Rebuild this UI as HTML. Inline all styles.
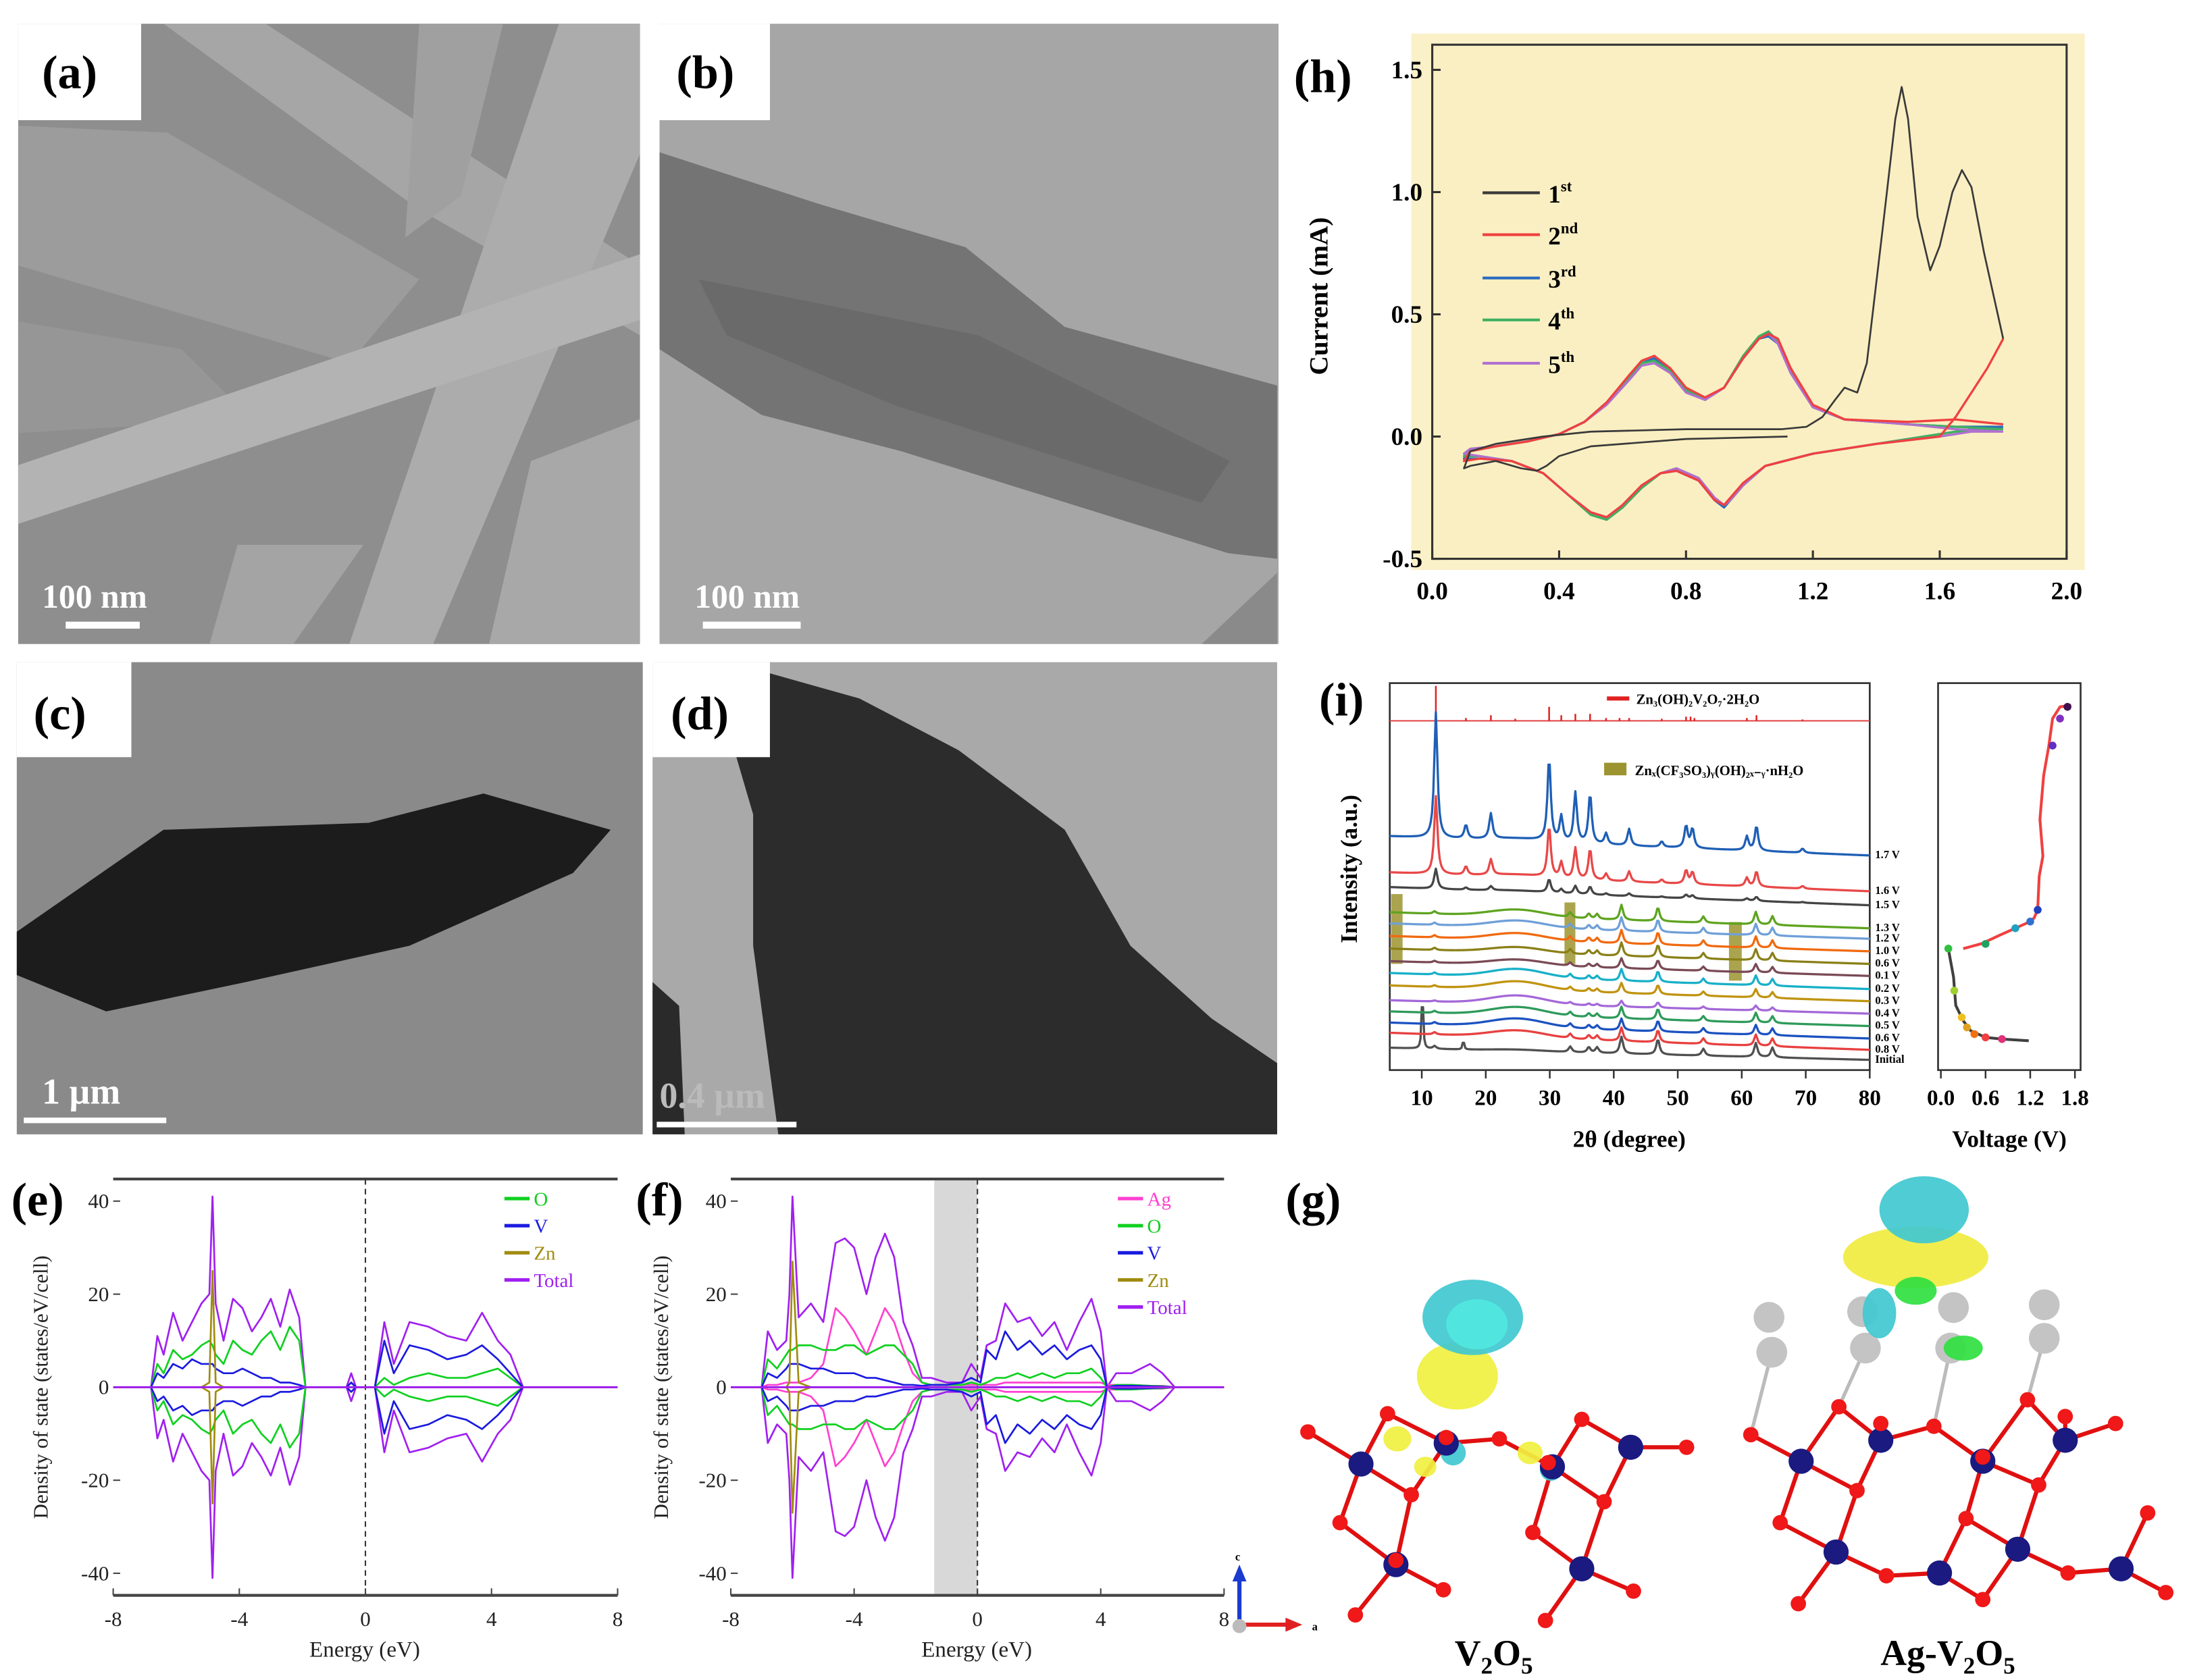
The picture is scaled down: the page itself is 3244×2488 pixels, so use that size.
<!DOCTYPE html>
<html><head><meta charset="utf-8">
<style>
html,body{margin:0;padding:0;background:#fff;}
svg{display:block;}
text{font-family:"Liberation Serif",serif;}
</style></head>
<body>
<svg id="fig" width="3244" height="2488" viewBox="0 0 1568 1202.6" xmlns="http://www.w3.org/2000/svg">
<rect x="0" y="0" width="1568" height="1203" fill="#fff"/>

<!-- (a) SEM -->
<g>
  <rect x="13" y="17" width="445" height="444" fill="#8e8e8e"/>
  <polygon points="117,17 190,17 458,190 458,240 300,150" fill="#a6a6a6"/>
  <polygon points="13,90 120,95 300,200 250,260 13,190" fill="#9c9c9c"/>
  <polygon points="13,230 130,250 180,300 13,310" fill="#969696"/>
  <polygon points="400,17 458,17 458,110 310,461 250,461" fill="#acacac"/>
  <polygon points="300,17 360,17 330,140 290,170" fill="#a0a0a0"/>
  <polygon points="13,333 458,182 458,229 13,375" fill="#b3b3b3"/>
  <polygon points="170,390 260,390 210,461 150,461" fill="#a4a4a4"/>
  <polygon points="380,330 458,300 458,461 350,461" fill="#a8a8a8"/>
  <rect x="13" y="17" width="88" height="69" fill="#fff"/>
  <text x="30" y="63" font-size="34" font-weight="bold">(a)</text>
  <text x="30" y="435" font-size="24" font-weight="bold" fill="#fff">100 nm</text>
  <rect x="47" y="445" width="53" height="5" fill="#fff"/>
</g>

<!-- (b) TEM -->
<g>
  <rect x="472" y="17" width="443" height="444" fill="#a6a6a6"/>
  <polygon points="472,109 586,146 691,177 762,234 914,276 914,400 879,396 645,323 545,297 472,250" fill="#747474"/>
  <polygon points="500,200 700,240 880,330 860,360 640,290 520,240" fill="#6a6a6a"/>
  <polygon points="860,461 914,410 914,461" fill="#8a8a8a"/>
  <rect x="472" y="17" width="79" height="69" fill="#fff"/>
  <text x="484" y="63" font-size="34" font-weight="bold">(b)</text>
  <text x="497" y="435" font-size="24" font-weight="bold" fill="#fff">100 nm</text>
  <rect x="503" y="445" width="70" height="5" fill="#fff"/>
</g>

<!-- (c) -->
<g>
  <rect x="12" y="474" width="448" height="338" fill="#8a8a8a"/>
  <polygon points="12,667 117,594 264,589 346,568 437,594 410,625 293,677 176,703 76,724 12,698" fill="#1c1c1c"/>
  <rect x="12" y="474" width="82" height="68" fill="#fff"/>
  <text x="24" y="522" font-size="34" font-weight="bold">(c)</text>
  <text x="30" y="790" font-size="26" font-weight="bold" fill="#fff">1 µm</text>
  <rect x="17" y="800" width="102" height="4" fill="#fff"/>
</g>

<!-- (d) -->
<g>
  <rect x="467" y="474" width="447" height="338" fill="#a9a9a9"/>
  <polygon points="527,542 551,482 615,500 686,537 762,594 809,677 867,729 914,761 914,812 557,812 539,677 539,583" fill="#2c2c2c"/>
  <polygon points="467,703 486,720 490,812 467,812" fill="#2a2a2a"/>
  <rect x="467" y="474" width="84" height="68" fill="#fff"/>
  <text x="480" y="522" font-size="34" font-weight="bold">(d)</text>
  <text x="472" y="793" font-size="26" font-weight="bold" fill="#bbb">0.4 µm</text>
  <rect x="470" y="803" width="100" height="4" fill="#fff"/>
</g>

<!-- (h) CV -->
<g>
  <rect x="1010" y="24" width="482" height="384" fill="#fbf1c8"/>
  <text x="926" y="66" font-size="34" font-weight="bold">(h)</text>
  <text x="1044" y="82" font-size="19" font-weight="bold" fill="#222">unit: 0.1 mV s<tspan font-size="12" dy="-8">-1</tspan></text>
  <text transform="translate(950,212) rotate(-90)" text-anchor="middle" font-size="19" font-weight="bold">Current (mA)</text>
  <g id="hplot"></g>
</g>

<!-- (i) XRD -->
<g>
  <text x="944" y="512" font-size="34" font-weight="bold">(i)</text>
  <text transform="translate(971,622) rotate(-90)" text-anchor="middle" font-size="17" font-weight="bold">Intensity (a.u.)</text>
  <text x="1166" y="821" text-anchor="middle" font-size="17" font-weight="bold">2θ (degree)</text>
  <text x="1438" y="821" text-anchor="middle" font-size="17" font-weight="bold">Voltage (V)</text>
  <g id="iplot"></g>
</g>

<!-- (e),(f) DOS -->
<g>
  <text x="8" y="870" font-size="34" font-weight="bold">(e)</text>
  <text transform="translate(34,993) rotate(-90)" text-anchor="middle" font-size="15" fill="#222">Density of state (states/eV/cell)</text>
  <text x="261" y="1186" text-anchor="middle" font-size="16" fill="#222">Energy (eV)</text>
  <g id="eplot"></g>
</g>
<g>
  <text x="455" y="870" font-size="34" font-weight="bold">(f)</text>
  <text transform="translate(478,993) rotate(-90)" text-anchor="middle" font-size="15" fill="#222">Density of state (states/eV/cell)</text>
  <text x="699" y="1186" text-anchor="middle" font-size="16" fill="#222">Energy (eV)</text>
  <g id="fplot"></g>
</g>

<!-- (g) structures -->
<g>
  <text x="920" y="870" font-size="34" font-weight="bold">(g)</text>
  <g id="gmol"></g>
  <text x="1069" y="1192" text-anchor="middle" font-size="26" font-weight="bold">V<tspan font-size="17" dy="6">2</tspan><tspan dy="-6">O</tspan><tspan font-size="17" dy="6">5</tspan></text>
  <text x="1394" y="1192" text-anchor="middle" font-size="26" font-weight="bold">Ag-V<tspan font-size="17" dy="6">2</tspan><tspan dy="-6">O</tspan><tspan font-size="17" dy="6">5</tspan></text>
  <g>
    <line x1="887" y1="1163" x2="887" y2="1130" stroke="#1a3ad0" stroke-width="3"/>
    <polygon points="882,1132 892,1132 887,1120" fill="#1a3ad0"/>
    <line x1="887" y1="1163" x2="922" y2="1163" stroke="#e02020" stroke-width="3"/>
    <polygon points="920,1158 920,1168 932,1163" fill="#e02020"/>
    <circle cx="887" cy="1164" r="5" fill="#bbb"/>
    <text x="884" y="1117" font-size="8" font-weight="bold">c</text>
    <text x="939" y="1167" font-size="8" font-weight="bold">a</text>
  </g>
</g>
</svg>

<script>
// ---------- CV (h) data ----------
const cvCycleNames = ['1st','2nd','3rd','4th','5th'];
const cvColors = ['#3a3a3a','#f04040','#2a6cc0','#40b060','#b070d0'];
const cv1V = [1.12,0.8,0.5,0.4,0.36,0.33,0.28,0.2,0.12,0.1,0.12,0.2,0.35,0.5,0.8,1.1,1.18,1.23,1.27,1.3,1.34,1.37,1.42,1.46,1.48,1.5,1.53,1.57,1.6,1.64,1.67,1.7,1.74,1.8];
const cv1I = [0.0,-0.01,-0.04,-0.08,-0.12,-0.14,-0.13,-0.1,-0.12,-0.13,-0.06,-0.03,0.0,0.02,0.03,0.03,0.04,0.08,0.15,0.2,0.18,0.3,0.85,1.3,1.43,1.3,0.9,0.68,0.78,1.0,1.09,1.02,0.75,0.4];
const cv2V = [1.8,1.75,1.7,1.65,1.6,1.4,1.2,1.05,0.98,0.94,0.92,0.89,0.84,0.77,0.72,0.66,0.6,0.55,0.5,0.43,0.35,0.25,0.15,0.1,0.12,0.2,0.3,0.4,0.48,0.55,0.62,0.66,0.7,0.75,0.8,0.86,0.92,0.98,1.03,1.06,1.09,1.13,1.2,1.3,1.5,1.65,1.8];
const cv2I = [0.4,0.28,0.18,0.08,0.0,-0.03,-0.07,-0.12,-0.19,-0.25,-0.28,-0.26,-0.18,-0.14,-0.15,-0.2,-0.28,-0.33,-0.31,-0.24,-0.15,-0.1,-0.09,-0.1,-0.06,-0.04,-0.02,0.01,0.06,0.14,0.25,0.31,0.33,0.28,0.2,0.16,0.2,0.32,0.4,0.42,0.4,0.28,0.13,0.07,0.06,0.07,0.05];
const cv3I = [0.04,0.03,0.03,0.02,0.01,-0.03,-0.07,-0.12,-0.2,-0.26,-0.29,-0.26,-0.18,-0.14,-0.15,-0.21,-0.29,-0.34,-0.32,-0.24,-0.15,-0.1,-0.09,-0.09,-0.06,-0.04,-0.02,0.01,0.06,0.14,0.24,0.3,0.32,0.27,0.19,0.15,0.2,0.32,0.4,0.41,0.38,0.26,0.12,0.07,0.05,0.04,0.04];
const cv4I = [0.03,0.03,0.02,0.02,0.01,-0.03,-0.07,-0.12,-0.2,-0.26,-0.28,-0.25,-0.17,-0.13,-0.15,-0.21,-0.29,-0.34,-0.32,-0.24,-0.15,-0.1,-0.08,-0.08,-0.05,-0.04,-0.02,0.01,0.06,0.14,0.24,0.3,0.31,0.27,0.19,0.15,0.2,0.33,0.41,0.43,0.39,0.27,0.12,0.07,0.05,0.04,0.03];
const cv5I = [0.02,0.02,0.02,0.01,0.0,-0.03,-0.07,-0.12,-0.2,-0.26,-0.28,-0.25,-0.17,-0.13,-0.15,-0.2,-0.28,-0.33,-0.31,-0.24,-0.15,-0.1,-0.08,-0.07,-0.05,-0.04,-0.02,0.01,0.06,0.13,0.23,0.29,0.3,0.26,0.18,0.15,0.2,0.32,0.4,0.42,0.38,0.26,0.12,0.07,0.05,0.03,0.02];
const cvXTicks = [0.0,0.4,0.8,1.2,1.6,2.0];
const cvXTickLabels = ['0.0','0.4','0.8','1.2','1.6','2.0'];
const cvYTicks = [-0.5,0.0,0.5,1.0,1.5];
const cvYTickLabels = ['-0.5','0.0','0.5','1.0','1.5'];

// ---------- XRD (i) data ----------
const xrdLabels = ['1.7 V','1.6 V','1.5 V','1.3 V','1.2 V','1.0 V','0.6 V','0.1 V','0.2 V','0.3 V','0.4 V','0.5 V','0.6 V','0.8 V','Initial'];
const xrdColors = ['#1f5fb5','#e84848','#454545','#5ea420','#6fa0d8','#f06a10','#8a8018','#7a4a56','#18b0c8','#c09410','#a468d8','#2e9a5a','#1c52c0','#e84040','#505050'];
const xrdStartOffset = [598.6,624.5,635,653,661,670,679,688,696.5,705.4,716,724,732,739.3,750];
const xrdEndOffset = [612.4,638,648,664.5,672,681,690,698.6,708,716.7,725.6,734.5,743.4,751.5,758.7];
const xrdHiScale = [1.0,0.62,0.16,0,0,0,0,0,0,0,0,0,0,0,0];
const xrdLoScale = [0,0,0,0.9,0.8,0.8,0.8,0.6,0.7,0.6,0.35,0.7,0.7,0.8,1.0];
const xrdHump = [2,2,1,5,5,5,4,4,6,6,6,6,6,5,1];
const hiPeaks = [12.2,16.9,20.8,29.9,31.8,34.0,36.3,38.8,42.4,47.5,51.3,52.3,60.8,62.3,69.5];
const hiHeights = [90,10,18,60,18,36,36,8,12,4,16,14,10,18,3];
const loPeaks = [12.0,33.2,36.1,37.4,41.2,46.9,54.0,62.2,64.8];
const loHeights = [2,4,4,4,12,11,5,10,7];
const initialExtraPeaks = [10.1,16.5];
const initialExtraHeights = [50,8];
const refSticks = [12.2,16.9,20.8,24.6,29.9,31.8,34.0,36.3,38.8,40.9,42.4,47.5,51.3,52.0,52.6,60.8,62.3,69.5];
const refHeights = [25,2,4,1.5,10,4,5,5,2,2,2,1.5,3,3,2,2,4,1];
const xrdXTicks = [10,20,30,40,50,60,70,80];
const highlightBands = [[5.2,7.0,640,690],[32.3,34.0,646,690],[58.0,60.0,660,702]];

// ---------- voltage profile ----------
const voltV = [1.18,0.82,0.6,0.4,0.3,0.2,0.17,0.1,0.3,0.55,0.8,1.0,1.15,1.25,1.3,1.32,1.37,1.33,1.38,1.45,1.5,1.6,1.75];
const voltT = [0,0.005,0.01,0.03,0.06,0.106,0.191,0.276,0.276,0.291,0.317,0.337,0.352,0.367,0.392,0.492,0.553,0.663,0.794,0.884,0.965,1.0,1.005];
const voltSplit = 8;
const markerV = [0.82,0.6,0.45,0.35,0.28,0.18,0.1,0.6,1.0,1.2,1.3,1.5,1.6,1.7];
const markerT = [0.005,0.01,0.02,0.04,0.07,0.15,0.276,0.29,0.337,0.357,0.392,0.884,0.965,1.0];
const markerColors = ['#e0307a','#f04040','#f07010','#e0a020','#f0c020','#a0d030','#30c040','#20a060','#20a0c0','#3070d0','#2040c0','#6030c0','#8030c0','#401050'];
const voltTicks = [0.0,0.6,1.2,1.8];

// ---------- DOS (e) ----------
const eEnergy = [-8,-6.8,-6.6,-6.4,-6.1,-5.8,-5.5,-5.2,-4.95,-4.85,-4.75,-4.5,-4.2,-3.9,-3.6,-3.3,-3.0,-2.7,-2.4,-2.1,-1.9,-0.6,-0.45,-0.3,0.3,0.6,0.9,1.4,2.0,2.6,3.2,3.7,4.2,4.6,5.0,8];
const eTotal = [0,0,11,7,16,10,14,18,20,41,18,10,19,17,12,15,19,13,21,15,0,0,3,0,0,14,5,14,13,11,10,16,10,7,0,0];
const eO = [0,0,5,3,8,6,7,9,10,9,7,5,10,8,7,10,12,8,13,10,0,0,1,0,0,2,0.5,2,3,2,2,3,4,2,0,0];
const eV = [0,0,3,2,5,4,6,5,5,5,4,3,3,4,3,2,2,1,1,0.5,0,0,1,0,0,10,3,9,8,6,7,9,6,3,0,0];
const eZn = [0,0,0,0,0,0,0,0,1,25,1,0,0,0,0,0,0,0,0,0,0,0,0,0,0,0,0,0,0,0,0,0,0,0,0,0];
// ---------- DOS (f) ----------
const fEnergy = [-8,-7.0,-6.8,-6.5,-6.2,-6.1,-6.0,-5.8,-5.4,-5.0,-4.6,-4.3,-4.0,-3.6,-3.3,-3.0,-2.7,-2.4,-2.1,-1.8,-1.5,-1.0,-0.5,-0.2,0.1,0.3,0.6,0.9,1.3,1.7,2.1,2.5,2.9,3.3,3.7,4.0,4.2,4.5,5.0,5.6,6.0,6.4,8];
const fTotal = [0,0,12,8,10,20,41,15,18,14,31,32,30,20,28,33,28,14,9,2,2,1,1,5,2,9,10,18,14,15,11,14,8,14,19,12,0,3,3,5,3,0,0];
const fAg = [0,0,0.5,0.5,1,1,1,1,2,5,17,15,12,7,12,17,14,8,3,1,0.5,0.5,0.5,0.5,0.5,0.5,0.5,1,1,1,1,1,1,1,1,1,0.5,0.5,0.5,0.3,0.3,0,0];
const fO = [0,0,6,4,7,8,8,9,9,8,8,9,9,7,8,9,9,7,5,1,0.5,0.5,0.5,1,0.5,1,2,2,3,2,3,2,3,3,4,2,0,0.5,0.5,0.3,0.2,0,0];
const fV = [0,0,3,2,4,5,5,5,4,4,3,3,3,2,2,1.5,1,0.5,0.5,0.3,0.5,0.5,1,2,1,8,6,12,8,10,7,9,6,8,9,6,0,0.3,0.3,0.2,0.1,0,0];
const fZn = [0,0,0,0,0,1,27,1,0,0,0,0,0,0,0,0,0,0,0,0,0,0,0,0,0,0,0,0,0,0,0,0,0,0,0,0,0,0,0,0,0,0,0];
const dosXTicks = [-8,-4,0,4,8];
const dosYTicks = [-40,-20,0,20,40];

const NS='http://www.w3.org/2000/svg';
function mk(parent,tag,attrs,txt){const el=document.createElementNS(NS,tag);for(const k in attrs)el.setAttribute(k,attrs[k]);if(txt!==undefined)el.textContent=txt;parent.appendChild(el);return el;}
function pathFrom(xs,ys){let d='';for(let i=0;i<xs.length;i++)d+=(i?'L':'M')+xs[i].toFixed(2)+','+ys[i].toFixed(2);return d;}

// ===== (h) =====
(function(){
  const g=document.getElementById('hplot');
  const xh=v=>1025+v*227, yh=c=>312.5-c*175;
  const frame=mk(g,'rect',{x:1025,y:32,width:454,height:368,fill:'#faefc2',stroke:'#333','stroke-width':1.5});
  
  
  cvXTicks.forEach((t,i)=>{
    const l=mk(g,'line',{x1:xh(t),x2:xh(t),y1:400,y2:394,stroke:'#333','stroke-width':1.5});
    
    
    const tx=mk(g,'text',{x:xh(t),y:429,'text-anchor':'middle','font-size':18,'font-weight':'bold'},cvXTickLabels[i]);
    
    
  });
  cvYTicks.forEach((t,i)=>{
    const l=mk(g,'line',{x1:1025,x2:1031,y1:yh(t),y2:yh(t),stroke:'#333','stroke-width':1.5});
    
    
    const tx=mk(g,'text',{x:1018,y:yh(t)+6,'text-anchor':'end','font-size':18,'font-weight':'bold'},cvYTickLabels[i]);
    
    
  });
  const series=[[cv1V,cv1I],[cv2V,cv2I],[cv2V,cv3I],[cv2V,cv4I],[cv2V,cv5I]];
  const order=[2,3,4,1,0];
  order.forEach(k=>{
    const [vs,is]=series[k];
    const p=mk(g,'path',{d:pathFrom(vs.map(xh),is.map(yh)),fill:'none',stroke:cvColors[k],'stroke-width':k==0?1.3:1.6,'stroke-linejoin':'round'});
    
    
  });
  const legY=[138,168,199,229,260];
  cvCycleNames.forEach((n,i)=>{
    const l=mk(g,'line',{x1:1061,x2:1102,y1:legY[i],y2:legY[i],stroke:cvColors[i],'stroke-width':2});
    
    
    const t=mk(g,'text',{x:1108,y:legY[i]+7,'font-size':18,'font-weight':'bold'});
    
    
    t.appendChild(document.createTextNode(n.charAt(0)));
    mk(t,'tspan',{'font-size':11,dy:-8},n.slice(1));
  });
})();

// ===== (i) =====
(function(){
  const g=document.getElementById('iplot');
  const xi=t=>994.6+(t-5)*4.58;
  const lor=(x,c,w)=>1/(1+((x-c)/w)*((x-c)/w));
  const fr=mk(g,'rect',{x:994.6,y:489,width:343.5,height:277,fill:'none',stroke:'#333','stroke-width':1.3});
  
  
  xrdXTicks.forEach(t=>{
    const l=mk(g,'line',{x1:xi(t),x2:xi(t),y1:766,y2:772,stroke:'#333','stroke-width':1.2});
    
    
    const tx=mk(g,'text',{x:xi(t),y:791,'text-anchor':'middle','font-size':16,'font-weight':'bold'},String(t));
    
    
  });
  highlightBands.forEach(b=>{
    const r=mk(g,'rect',{x:xi(b[0]),y:b[2],width:xi(b[1])-xi(b[0]),height:b[3]-b[2],fill:'#9c9430',opacity:0.85});
    
    
  });
  const base=mk(g,'line',{x1:994.6,x2:1338,y1:516,y2:516,stroke:'#e04040','stroke-width':1});
  
  
  refSticks.forEach((t,i)=>{
    const l=mk(g,'line',{x1:xi(t),x2:xi(t),y1:516,y2:516-refHeights[i],stroke:'#e02020','stroke-width':1.2});
    
    
  });
  for(let k=xrdLabels.length-1;k>=0;k--){
    const xs=[],ys=[];
    for(let t=5;t<=80.001;t+=0.2){
      let b=xrdStartOffset[k]+(xrdEndOffset[k]-xrdStartOffset[k])*(t-5)/75;
      let h=xrdHump[k]*Math.exp(-((t-25)/6)*((t-25)/6));
      hiPeaks.forEach((c,j)=>{h+=xrdHiScale[k]*hiHeights[j]*lor(t,c,0.3);});
      loPeaks.forEach((c,j)=>{h+=xrdLoScale[k]*loHeights[j]*lor(t,c,0.3);});
      if(k===xrdLabels.length-1) initialExtraPeaks.forEach((c,j)=>{h+=initialExtraHeights[j]*lor(t,c,0.12);});
      xs.push(xi(t));ys.push(b-h);
    }
    const p=mk(g,'path',{d:pathFrom(xs,ys),fill:'none',stroke:xrdColors[k],'stroke-width':1.6,'stroke-linejoin':'round'});
    
    
    const lb=mk(g,'text',{x:1342,y:xrdEndOffset[k]+2,'font-size':8,'font-weight':'bold'},xrdLabels[k]);
    
    
  }
  const l1=mk(g,'line',{x1:1150,x2:1166,y1:500,y2:500,stroke:'#e02020','stroke-width':3});
  
  
  const t1=mk(g,'text',{x:1171,y:504,'font-size':10,'font-weight':'bold'},'Zn₃(OH)₂V₂O₇·2H₂O');
  
  
  const r2=mk(g,'rect',{x:1148,y:546,width:16,height:9,fill:'#9c9430'});
  
  
  const t2=mk(g,'text',{x:1170,y:555,'font-size':10,'font-weight':'bold'},'Znₓ(CF₃SO₃)ᵧ(OH)₂ₓ₋ᵧ·nH₂O');
  
  

  const xv=v=>1389+v*53.3, yv=t=>745-t*239;
  const vf=mk(g,'rect',{x:1387,y:489,width:102,height:277,fill:'none',stroke:'#333','stroke-width':1.3});
  
  
  voltTicks.forEach(t=>{
    const l=mk(g,'line',{x1:xv(t),x2:xv(t),y1:766,y2:772,stroke:'#333','stroke-width':1.2});
    
    
    const tx=mk(g,'text',{x:xv(t),y:791,'text-anchor':'middle','font-size':16,'font-weight':'bold'},t.toFixed(1));
    
    
  });
  const dis=mk(g,'path',{d:pathFrom(voltV.slice(0,voltSplit).map(xv),voltT.slice(0,voltSplit).map(yv)),fill:'none',stroke:'#404040','stroke-width':2});
  
  
  const chg=mk(g,'path',{d:pathFrom(voltV.slice(voltSplit).map(xv),voltT.slice(voltSplit).map(yv)),fill:'none',stroke:'#f04040','stroke-width':2});
  
  
  markerV.forEach((v,i)=>{
    const c=mk(g,'circle',{cx:xv(v),cy:yv(markerT[i]),r:2.8,fill:markerColors[i]});
    
    
  });
})();

// ===== DOS =====
function dosPanel(id,x0,x1,E,series,colors,names,legendOrder,legendX,shade){
  const g=document.getElementById(id);
  const xs=e=>x0+(e+8)*(x1-x0)/16, ys=v=>993-v*3.33;
  if(shade){const r=mk(g,'rect',{x:xs(shade[0]),y:844,width:xs(shade[1])-xs(shade[0]),height:298,fill:'#d8d8d8'});
    
    }
  const top=mk(g,'line',{x1:x0,x2:x1,y1:844,y2:844,stroke:'#444','stroke-width':2});
  
  
  const bot=mk(g,'line',{x1:x0,x2:x1,y1:1142,y2:1142,stroke:'#444','stroke-width':2});
  
  
  const fl=mk(g,'line',{x1:xs(0),x2:xs(0),y1:844,y2:1142,stroke:'#333','stroke-width':1,'stroke-dasharray':'4,3'});
  
  
  dosXTicks.forEach(t=>{
    const l=mk(g,'line',{x1:xs(t),x2:xs(t),y1:1142,y2:1137,stroke:'#444'});
    
    
    const tx=mk(g,'text',{x:xs(t),y:1164,'text-anchor':'middle','font-size':15,fill:'#222'},String(t));
    
    
  });
  dosYTicks.forEach(t=>{
    const l=mk(g,'line',{x1:x0,x2:x0+5,y1:ys(t),y2:ys(t),stroke:'#444'});
    
    
    const tx=mk(g,'text',{x:x0-3,y:ys(t)+5,'text-anchor':'end','font-size':15,fill:'#222'},String(t));
    
    
  });
  series.forEach((s,k)=>{
    ['up','down'].forEach((sp,si)=>{
      const sign=si?-1:1;
      const p=mk(g,'path',{d:pathFrom(E.map(xs),s.map(v=>ys(sign*v))),fill:'none',stroke:colors[k],'stroke-width':1.3,'stroke-linejoin':'round'});
      
      
    });
  });
  const z=mk(g,'line',{x1:x0,x2:x1,y1:993,y2:993,stroke:colors[0],'stroke-width':1.5});
  
  
  legendOrder.forEach((k,i)=>{
    const y=858+i*19.4;
    const l=mk(g,'line',{x1:legendX,x2:legendX+18,y1:y,y2:y,stroke:colors[k],'stroke-width':2.5});
    
    
    const t=mk(g,'text',{x:legendX+21,y:y+5,'font-size':14,fill:colors[k]},names[k]);
    
    
  });
}
dosPanel('eplot',81,442,eEnergy,[eTotal,eO,eV,eZn],['#a020f0','#10d020','#1a1ae0','#a08c10'],['Total','O','V','Zn'],[1,2,3,0],361,null);
dosPanel('fplot',523,876,fEnergy,[fTotal,fAg,fO,fV,fZn],['#a020f0','#ff40d0','#10d020','#1a1ae0','#a08c10'],['Total','Ag','O','V','Zn'],[1,2,3,4,0],800,[-1.4,0]);

// ===== (g) molecules =====
(function(){
  const g=document.getElementById('gmol');
  const vA=[[974,1048],[1035,1033],[1111,1050],[1167,1036],[999,1120],[1132,1123]];
  const oA=[[936,1025],[1035,1029],[1108,1047],[1148,1075],[1207,1036],[1132,1016],[959,1090],[1010,1070],[1097,1097],[1033,1138],[970,1156],[1169,1139],[1106,1160],[999,1117],[1073,1030],[993,1012]];
  const vB=[[1289,1046],[1346,1031],[1419,1046],[1478,1031],[1314,1111],[1388,1126],[1444,1109],[1518,1123]];
  const oB=[[1253,1027],[1316,1007],[1346,1019],[1384,1021],[1451,1002],[1478,1014],[1514,1019],[1329,1067],[1459,1063],[1274,1090],[1407,1087],[1350,1128],[1480,1126],[1287,1148],[1419,1145],[1537,1083],[1550,1140],[1419,1043]];
  const agB=[[1266,943],[1268,968],[1333,939],[1335,965],[1398,936],[1396,965],[1463,934],[1463,958]];
  function bonds(vs,os,ags){
    vs.forEach(v=>os.forEach(o=>{const d=Math.hypot(v[0]-o[0],v[1]-o[1]);if(d<56&&d>3){
      const l=mk(g,'line',{x1:v[0],y1:v[1],x2:o[0],y2:o[1],stroke:'#e01010','stroke-width':3});
      
      }}));
    (ags||[]).forEach((a,i)=>{if(i%2===0)return;let best=null,bd=1e9;os.forEach(o=>{const d=Math.hypot(a[0]-o[0],a[1]-o[1]);if(o[1]>a[1]+20&&d<bd){bd=d;best=o;}});
      if(best){const l=mk(g,'line',{x1:a[0],y1:a[1],x2:best[0],y2:best[1],stroke:'#bbb','stroke-width':2.5});
      
      }});
  }
  bonds(vA,oA);bonds(vB,oB,agB);
  function iso(cx,cy,rx,ry,c,n){const e=mk(g,'ellipse',{cx:cx,cy:cy,rx:rx,ry:ry,fill:c,opacity:0.92});
    
    }
  iso(1043,985,29,24,'#f0f040','charge-density-yellow');
  iso(1054,943,36,27,'#40c8d0','charge-density-cyan');
  iso(1057,948,22,18,'#50e8e0','charge-density-cyan-inner');
  agB.forEach(a=>{const c=mk(g,'circle',{cx:a[0],cy:a[1],r:11,fill:'#c4c4c4'});
    
    });
  iso(1371,900,52,22,'#f0ec40','charge-density-yellow');
  iso(1377,866,32,24,'#40c8d0','charge-density-cyan');
  iso(1371,924,15,10,'#30e040','charge-density-green');
  iso(1405,965,14,9,'#30e040','charge-density-green');
  iso(1345,940,12,18,'#40c8d0','charge-density-cyan');
  [[1000,1030,10],[1095,1040,9],[1020,1050,8]].forEach(p=>iso(p[0],p[1],p[2],p[2]*0.9,'#f0f040','charge-density-yellow-small'));
  [[1040,1040,9],[1110,1052,8]].forEach(p=>iso(p[0],p[1],p[2],p[2],'#40c8d0','charge-density-cyan-small'));
  vA.concat(vB).forEach(v=>{const c=mk(g,'circle',{cx:v[0],cy:v[1],r:9,fill:'#1a1a80'});
    
    });
  oA.concat(oB).forEach(o=>{const c=mk(g,'circle',{cx:o[0],cy:o[1],r:5.5,fill:'#f01818'});
    
    });
})();
</script>
</body></html>
